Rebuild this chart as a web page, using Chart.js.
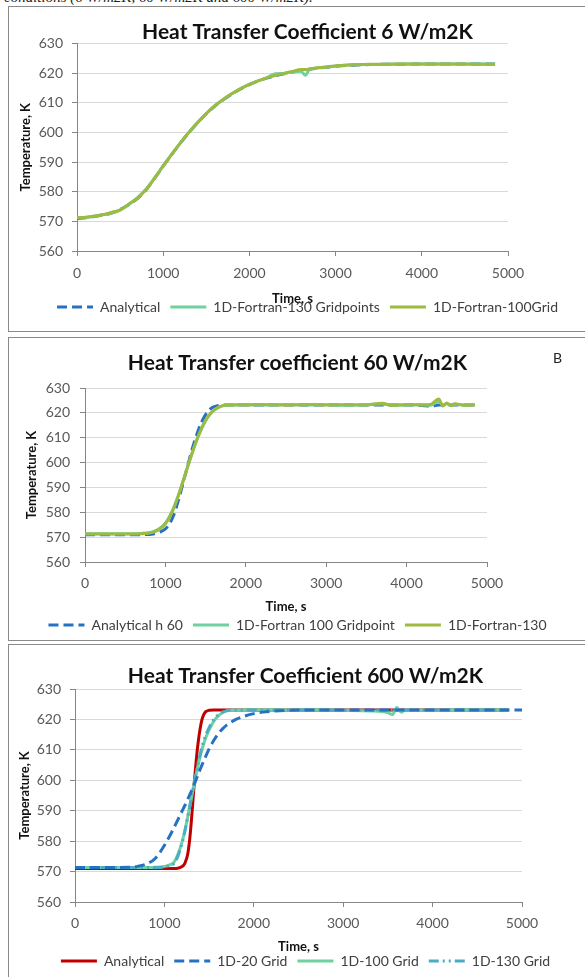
<!DOCTYPE html>
<html><head><meta charset="utf-8">
<script src="https://cdn.jsdelivr.net/npm/chart.js@4.4.1/dist/chart.umd.min.js"></script>
<style>
html,body{margin:0;padding:0;background:#fff;}
body{width:585px;height:977px;overflow:hidden;position:relative;font-family:Lato,sans-serif;}
.panel{position:absolute;border:1px solid #8a8a8a;background:#fff;}
.panel canvas{position:absolute;left:0;top:0;}
#cap{position:absolute;left:4px;top:-10px;font:italic 15px/15px 'Liberation Serif',serif;color:#222;white-space:nowrap;}
#lblB{position:absolute;left:553px;top:349px;font:14px Lato,sans-serif;color:#222;}
</style></head><body>
<div id="cap">conditions (6 W/m2K, 60 W/m2K and 600 W/m2K).</div>
<div class="panel" id="p1"><canvas id="c1"></canvas></div>
<div class="panel" id="p2"><canvas id="c2"></canvas></div>
<div class="panel" id="p3"><canvas id="c3"></canvas></div>
<div id="lblB">B</div>
<script>
// ---------- DATA ----------
const xTicks = [0, 1000, 2000, 3000, 4000, 5000];
const yTicks = [560, 570, 580, 590, 600, 610, 620, 630];

// Panel 1: h = 6 W/m2K
const p1Title = "Heat Transfer Coefficient 6 W/m2K";
const p1Labels = ["Analytical", "1D-Fortran-130 Gridpoints", "1D-Fortran-100Grid"];
const p1Time = [0,100,200,300,400,500,600,700,800,900,1000,1100,1200,1300,1400,1500,1600,1700,1800,1900,2000,2100,2200,2300,2400,2500,2600,2650,2700,2800,2900,3000,3200,3400,3600,3800,4000,4200,4400,4600,4850];
const p1Analytical = [571.0,571.2,571.6,572.1,572.8,574.0,575.6,577.7,580.6,584.5,588.6,592.6,596.4,600.0,603.3,606.3,608.9,611.1,613.0,614.7,616.1,617.3,618.3,619.1,619.8,620.4,620.9,621.1,621.3,621.7,622.0,622.3,622.7,622.9,623.0,623.0,623.1,623.1,623.1,623.1,623.1];
const p1Fortran130 = [571.2,571.3,571.7,572.3,572.7,573.9,575.7,577.9,580.8,584.6,588.7,592.7,596.5,600.1,603.4,606.4,609.0,611.2,613.1,614.8,616.2,617.4,618.4,619.8,619.9,620.5,620.6,619.3,621.4,621.8,622.1,622.4,622.8,622.9,623.0,623.1,623.1,623.1,623.1,623.1,623.1];
const p1Fortran100 = [571.2,571.4,571.8,572.2,573.0,573.8,575.8,577.8,580.7,584.6,588.7,592.6,596.5,600.1,603.3,606.4,609.0,611.2,613.1,614.8,616.2,617.4,618.4,619.2,619.9,620.6,621.2,621.2,621.4,621.8,622.1,622.4,622.8,623.0,623.0,623.1,623.1,623.1,623.1,623.0,623.0];

// Panel 2: h = 60 W/m2K
const p2Title = "Heat Transfer coefficient 60 W/m2K";
const p2Labels = ["Analytical h 60", "1D-Fortran 100 Gridpoint", "1D-Fortran-130"];
const p2Time = [0,200,400,600,700,800,850,900,950,1000,1050,1100,1150,1200,1250,1300,1350,1400,1450,1500,1550,1600,1650,1700,1800,1900,2000,2200,2500,2800,3000,3200,3500,3700,3800,4000,4200,4300,4400,4450,4500,4550,4600,4700,4850];
const p2Analytical = [571.0,571.0,571.0,571.0,571.0,571.1,571.3,571.7,572.3,573.3,575.3,578.6,583.5,589.3,595.5,601.6,607.3,612.2,616.3,619.3,621.3,622.4,622.9,623.1,623.2,623.2,623.2,623.2,623.2,623.2,623.2,623.2,623.2,623.2,623.2,623.2,623.0,622.6,623.2,623.2,623.2,623.2,623.2,623.2,623.2];
const p2Fortran100 = [571.4,571.4,571.4,571.4,571.5,571.8,572.2,572.9,574.0,575.6,578.2,581.6,585.8,590.6,595.6,600.6,605.4,609.8,613.6,616.8,619.2,620.9,622.0,622.7,623.1,623.2,623.3,623.2,623.4,623.2,623.3,623.1,623.3,623.6,623.2,623.2,623.3,623.1,624.6,623.0,623.7,623.1,623.5,623.2,623.3];
const p2Fortran130 = [571.3,571.3,571.3,571.3,571.4,571.7,572.0,572.7,573.8,575.4,578.0,581.4,585.6,590.5,595.6,600.7,605.6,610.0,613.9,617.0,619.4,621.0,622.1,622.8,623.2,623.3,623.2,623.4,623.2,623.4,623.2,623.3,623.2,623.9,623.1,623.3,623.2,623.4,625.6,622.8,624.0,622.9,623.7,623.1,623.2];

// Panel 3: h = 600 W/m2K
const p3Title = "Heat Transfer Coefficient 600 W/m2K";
const p3Labels = ["Analytical", "1D-20 Grid", "1D-100 Grid", "1D-130 Grid"];
const p3Time = [0,300,600,700,800,900,1000,1050,1100,1150,1200,1230,1260,1280,1300,1320,1340,1360,1380,1400,1420,1440,1460,1500,1550,1600,1650,1700,1800,1900,2000,2100,2200,2400,2700,3000,3300,3500,3550,3600,3650,3700,4000,4300,4600,4850,5000];
const p3Analytical = [571.0,571.0,571.0,571.0,571.0,571.0,571.0,571.0,571.0,571.1,571.7,572.8,575.6,579.8,586.0,593.6,601.2,607.8,613.0,617.0,619.9,621.6,622.5,623.0,623.1,623.1,623.1,623.1,623.1,623.1,623.1,623.1,623.1,623.1,623.1,623.1,623.1,623.1,623.1,623.1,623.1,623.1,623.1,623.1,623.1,623.1,null];
const p3Grid20 = [571.3,571.3,571.4,571.7,572.5,574.4,578.6,581.2,584.0,587.0,590.0,591.8,593.7,595.0,596.3,597.7,599.1,600.6,602.1,603.6,605.0,606.4,607.7,610.3,613.0,615.2,616.9,618.2,620.0,621.1,621.9,622.4,622.7,623.0,623.1,623.1,623.1,623.1,623.1,623.1,623.1,623.1,623.1,623.1,623.1,623.1,623.1];
const p3Grid100 = [571.3,571.3,571.3,571.3,571.3,571.4,571.7,572.1,572.8,575.6,580.0,583.6,587.8,590.8,593.8,596.8,599.7,602.6,605.3,607.8,610.0,612.0,613.8,616.6,619.3,621.1,622.2,622.8,623.1,623.1,623.2,623.1,623.2,623.1,623.2,623.0,622.8,622.2,621.6,623.9,622.4,623.1,623.0,623.2,623.1,623.2,null];
const p3Grid130 = [571.3,571.3,571.3,571.3,571.3,571.3,571.5,571.9,572.5,575.0,579.6,583.4,587.8,590.9,594.0,597.2,600.3,603.3,606.1,608.6,610.9,612.9,614.6,617.3,619.9,621.5,622.4,622.9,623.1,623.1,623.1,623.1,623.1,623.1,623.1,623.0,623.1,623.0,622.9,623.3,622.9,623.1,623.1,623.1,623.1,623.1,null];

// ---------- STYLES ----------
const C_BLUE = '#2672C0', C_MINT = '#6FD19F', C_OLIVE = '#9CBB40', C_RED = '#C00000', C_AQUA = '#4BACC6';
const FONT = 'Lato';

function pts(times, vals) {
  if (times.length !== vals.length) throw new Error('length mismatch ' + times.length + ' vs ' + vals.length);
  return times.map((t, i) => ({x: t, y: vals[i]}));
}
function ds(label, times, vals, color, dash, rank) {
  return {label, data: pts(times, vals), borderColor: color, backgroundColor: color,
    borderWidth: 3, borderDash: dash, pointRadius: 0, fill: false,
    cubicInterpolationMode: 'monotone', spanGaps: false, legendRank: rank};
}

function makePanel(spec, datasets) {
  const panel = document.getElementById(spec.id);
  const ox = spec.left + 1, oy = spec.top + 1;
  const W = Math.round(2 * (spec.centerX - ox));
  const H = spec.bottom - spec.top - 1;
  panel.style.left = spec.left + 'px';
  panel.style.top = spec.top + 'px';
  panel.style.width = W + 'px';
  panel.style.height = H + 'px';
  const canvas = panel.querySelector('canvas');
  canvas.width = W; canvas.height = H;
  canvas.style.width = W + 'px'; canvas.style.height = H + 'px';

  const pl = spec.plot.left - ox, pr = spec.plot.right - ox;
  const pt = spec.plot.top - oy, pb = spec.plot.bottom - oy;
  const titleFS = 21, titleLH = titleFS * 1.2;
  const tPadTop = (spec.titleY - oy) - titleLH / 2;
  const tPadBottom = pt - tPadTop - titleLH;
  const legFS = 14, legPad = 10;
  const legTop = (spec.legendY - oy) - legPad - legFS / 2;
  const legH = legFS + legPad + 10;
  const layoutBottom = H - (legTop + legH);
  const xH = legTop - pb;
  const axFS = 13, axLH = axFS * 1.2;
  const xtPadBottom = legTop - axLH / 2 - (spec.xTitleY - oy);
  const tickFS = 14, tickLH = tickFS * 1.2, tickLen = 5;
  const xTickPad = (spec.tickY - oy) - pb - tickLen - tickLH / 2;
  const yTitlePadTop = (spec.yTitleX - ox) - axLH / 2;
  const yTickPad = spec.plot.left - spec.yLabelRight - tickLen;
  const rightW = W - pr;

  return new Chart(canvas, {
    type: 'line',
    data: {datasets},
    options: {
      responsive: false, animation: false, devicePixelRatio: 1, events: [],
      layout: {padding: {left: 0, right: 0, top: 0, bottom: layoutBottom}},
      plugins: {
        title: {display: true, text: spec.title, color: '#111', fullSize: true,
          font: {family: FONT, size: titleFS, weight: 'bold', lineHeight: 1.2},
          padding: {top: tPadTop, bottom: tPadBottom}},
        legend: {display: true, position: 'bottom', fullSize: true,
          labels: {usePointStyle: true, pointStyle: 'line', pointStyleWidth: 36, boxHeight: legFS,
            color: '#404040', font: {family: FONT, size: legFS}, padding: legPad,
            generateLabels: chart => {
              const items = Chart.defaults.plugins.legend.labels.generateLabels(chart);
              items.forEach(it => {
                const d = chart.data.datasets[it.datasetIndex];
                it.lineDash = d.borderDash; it.strokeStyle = d.borderColor;
                it.fillStyle = d.borderColor; it.lineWidth = d.borderWidth; it.pointStyle = 'line';
              });
              return items;
            },
            sort: (a, b, data) => data.datasets[a.datasetIndex].legendRank - data.datasets[b.datasetIndex].legendRank}},
        tooltip: {enabled: false}
      },
      scales: {
        x: {type: 'linear', position: 'bottom', min: xTicks[0], max: xTicks[xTicks.length - 1],
          afterBuildTicks: s => { s.ticks = xTicks.map(v => ({value: v})); },
          ticks: {color: '#595959', font: {family: FONT, size: tickFS, lineHeight: 1.2}, padding: xTickPad,
            maxRotation: 0, autoSkip: false, callback: v => String(v)},
          grid: {display: true, drawOnChartArea: false, drawTicks: true, tickLength: tickLen, tickColor: '#868686'},
          border: {display: true, color: '#868686'},
          title: {display: true, text: 'Time, s', color: '#111',
            font: {family: FONT, size: axFS, weight: 'bold', lineHeight: 1.2}, padding: {top: 0, bottom: xtPadBottom}},
          afterFit: s => { s.height = xH; }},
        y: {type: 'linear', position: 'left', min: yTicks[0], max: yTicks[yTicks.length - 1],
          afterBuildTicks: s => { s.ticks = yTicks.map(v => ({value: v})); },
          ticks: {color: '#595959', font: {family: FONT, size: tickFS, lineHeight: 1.2}, padding: yTickPad,
            callback: v => String(v)},
          grid: {display: true, drawTicks: true, tickLength: tickLen, tickColor: '#868686',
            color: c => (c.tick && c.tick.value === yTicks[0]) ? '#868686' : '#D9D9D9'},
          border: {display: true, color: '#868686'},
          title: {display: true, text: 'Temperature, K', color: '#111',
            font: {family: FONT, size: axFS, weight: 'bold', lineHeight: 1.2}, padding: {top: yTitlePadTop, bottom: 0}},
          afterFit: s => { s.width = pl; }},
        yR: {type: 'linear', position: 'right', display: true,
          ticks: {display: false}, grid: {display: false, drawTicks: false}, border: {display: false},
          afterFit: s => { s.width = rightW; }}
      }
    }
  });
}

makePanel({id: 'p1', left: 8, top: 6, bottom: 331, centerX: 307.5,
  plot: {left: 77, right: 508, top: 43.5, bottom: 251},
  titleY: 32, tickY: 273, xTitleY: 299, legendY: 307, yTitleX: 26, yLabelRight: 63, title: p1Title},
  [ds(p1Labels[2], p1Time, p1Fortran100, C_OLIVE, [], 2),
   ds(p1Labels[1], p1Time, p1Fortran130, C_MINT, [], 1),
   ds(p1Labels[0], p1Time, p1Analytical, C_BLUE, [10, 5], 0)]);

makePanel({id: 'p2', left: 8, top: 337, bottom: 640, centerX: 297.5,
  plot: {left: 85, right: 487, top: 388, bottom: 562},
  titleY: 363, tickY: 583, xTitleY: 607, legendY: 625, yTitleX: 32, yLabelRight: 70, title: p2Title},
  [ds(p2Labels[2], p2Time, p2Fortran130, C_OLIVE, [], 2),
   ds(p2Labels[1], p2Time, p2Fortran100, C_MINT, [], 1),
   ds(p2Labels[0], p2Time, p2Analytical, C_BLUE, [10, 5], 0)]);

makePanel({id: 'p3', left: 8, top: 644, bottom: 990, centerX: 305.5,
  plot: {left: 75, right: 522, top: 689, bottom: 902},
  titleY: 676, tickY: 923, xTitleY: 947, legendY: 961, yTitleX: 25, yLabelRight: 61, title: p3Title},
  [ds(p3Labels[1], p3Time, p3Grid20, C_BLUE, [10, 5], 1),
   ds(p3Labels[3], p3Time, p3Grid130, C_AQUA, [10, 4, 2, 4, 2, 4], 3),
   ds(p3Labels[2], p3Time, p3Grid100, C_MINT, [], 2),
   ds(p3Labels[0], p3Time, p3Analytical, C_RED, [], 0)]);
</script>
</body></html>
